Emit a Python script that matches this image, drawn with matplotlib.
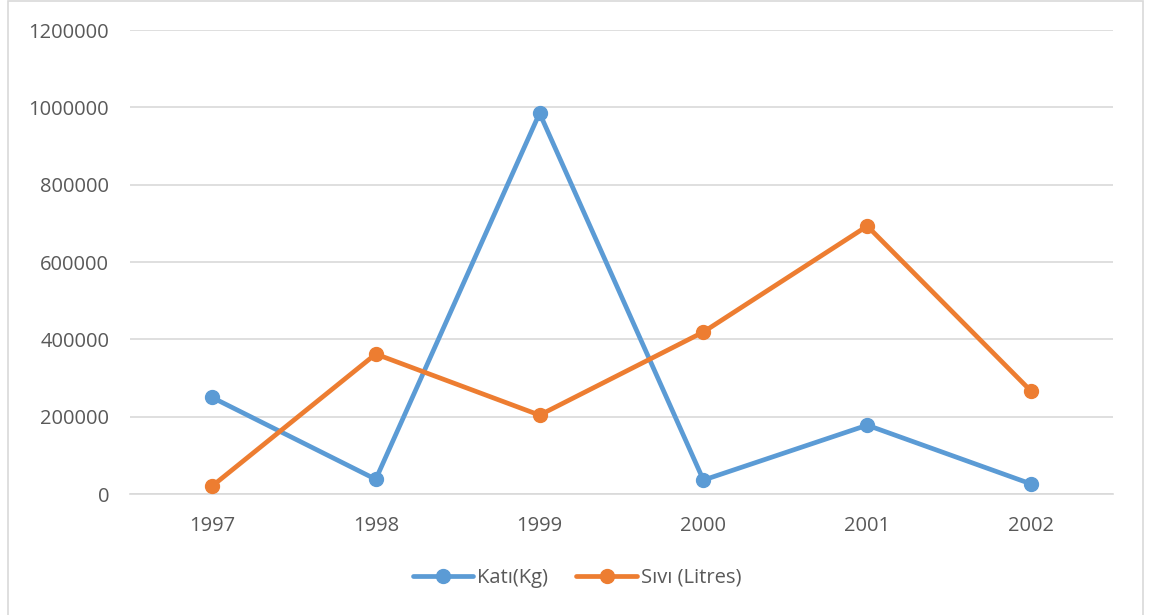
import matplotlib
matplotlib.use("Agg")
import matplotlib.pyplot as plt
from matplotlib.patches import Rectangle

plt.rcParams["font.family"] = ["Open Sans", "DejaVu Sans"]

# ── DATA ──────────────────────────────────────────────
years = ["1997", "1998", "1999", "2000", "2001", "2002"]
kati = [250000, 38000, 985000, 36000, 178000, 26000]
sivi = [20000, 362000, 204000, 419000, 693000, 266000]
yticks = [0, 200000, 400000, 600000, 800000, 1000000, 1200000]

blue = "#5B9BD5"
orange = "#ED7D31"
text_col = "#595959"

fig = plt.figure(figsize=(11.54, 6.15), dpi=100)
ax = fig.add_axes([130 / 1154, 1 - 494 / 615, (1113 - 130) / 1154, (494 - 30) / 615])

x = list(range(len(years)))
ax.plot(x, kati, color=blue, linewidth=3.4, marker="o", markersize=10,
        label="Katı(Kg)", solid_capstyle="round", zorder=3)
ax.plot(x, sivi, color=orange, linewidth=3.4, marker="o", markersize=10,
        label="Sıvı (Litres)", solid_capstyle="round", zorder=3)

ax.set_xlim(-0.5, len(years) - 0.5)
ax.set_ylim(0, 1200000)
ax.set_yticks(yticks)
ax.set_yticklabels([str(v) for v in yticks])
ax.set_xticks(x)
ax.set_xticklabels(years)

ax.grid(axis="y", color="#d9d9d9", linewidth=1.2)
ax.set_axisbelow(True)
for s in ["top", "right", "left"]:
    ax.spines[s].set_visible(False)
ax.spines["bottom"].set_color("#d9d9d9")
ax.spines["bottom"].set_linewidth(1.2)
ax.tick_params(axis="both", length=0, labelsize=14.5, colors=text_col)
ax.tick_params(axis="y", pad=15)
ax.tick_params(axis="x", pad=16)

leg = fig.legend(loc="center", bbox_to_anchor=(0.5, 1 - 578 / 615), ncol=2,
                 frameon=False, fontsize=14.5, handlelength=3.0,
                 columnspacing=1.4, handletextpad=0.2)
for t in leg.get_texts():
    t.set_color(text_col)

# outer chart border
fig.patches.append(Rectangle((8 / 1154, -0.01), (1143 - 8) / 1154, 1.008,
                             transform=fig.transFigure, fill=False,
                             edgecolor="#d9d9d9", linewidth=1.2))

fig.savefig("out.png", dpi=100)
